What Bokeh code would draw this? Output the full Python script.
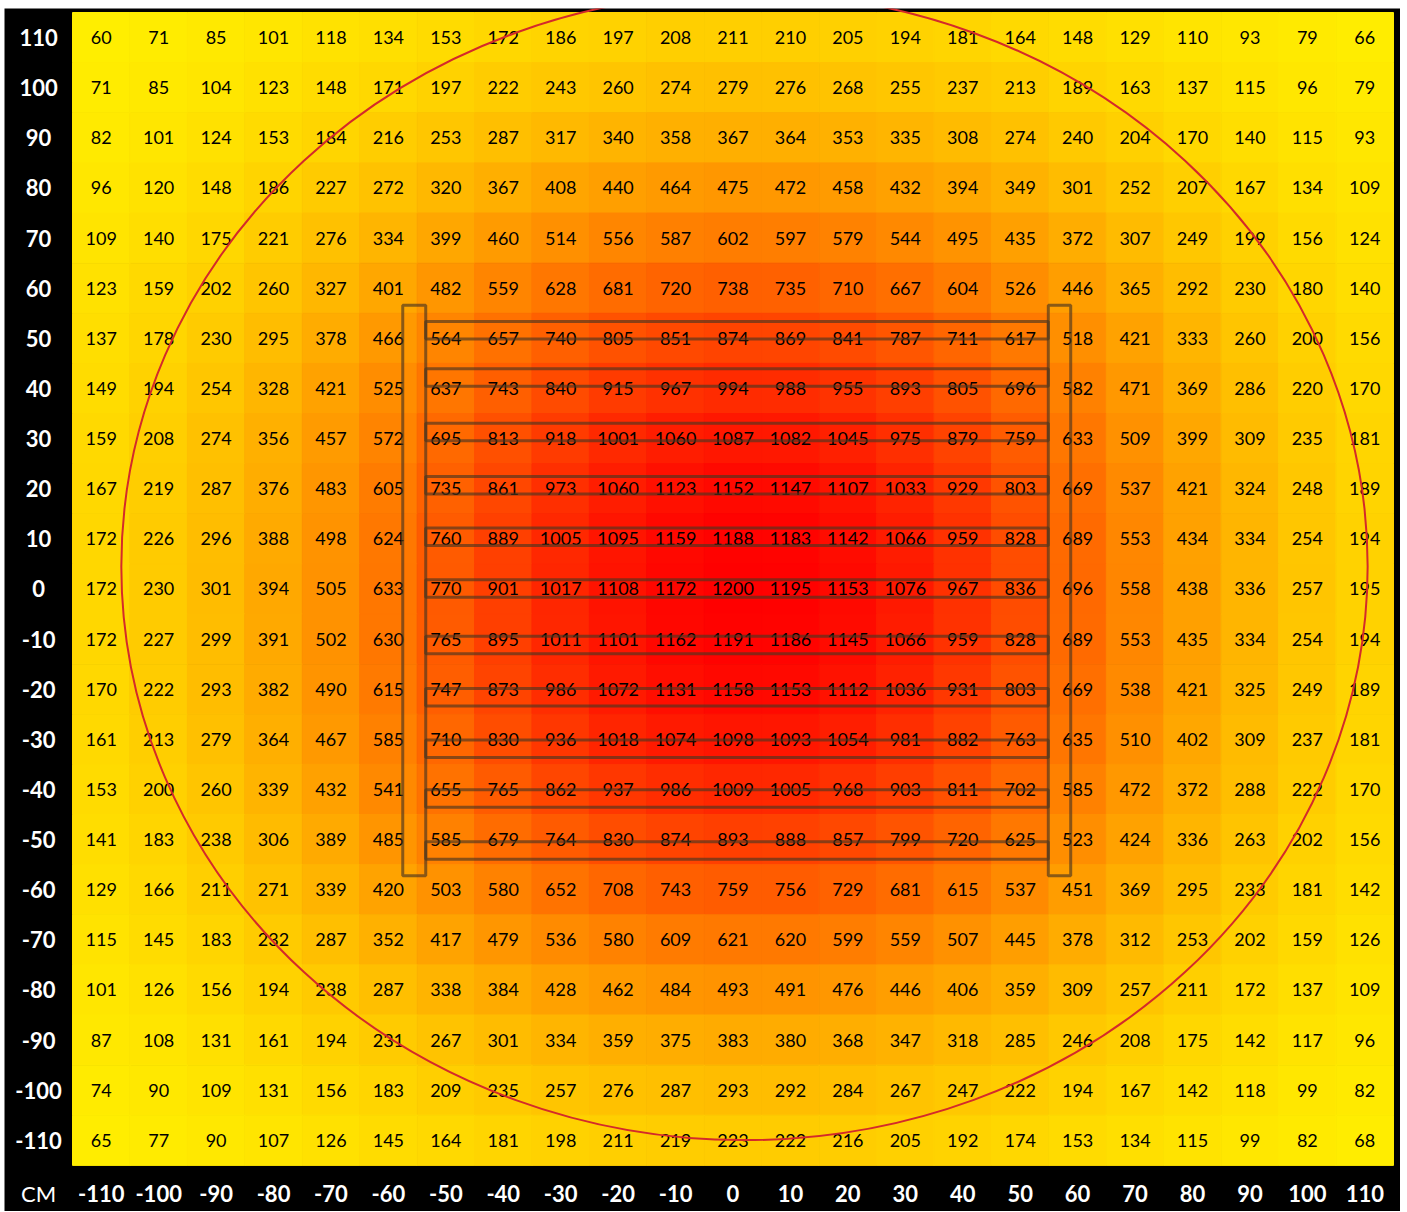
from bokeh.plotting import figure
from bokeh.models import Range1d, ColumnDataSource
from bokeh.transform import linear_cmap
from bokeh.core.properties import value
from bokeh.embed import file_html
from bokeh.resources import INLINE

# ---- data -------------------------------------------------------------
x_cm = [-110, -100, -90, -80, -70, -60, -50, -40, -30, -20, -10, 0,
        10, 20, 30, 40, 50, 60, 70, 80, 90, 100, 110]
y_cm = [110, 100, 90, 80, 70, 60, 50, 40, 30, 20, 10, 0,
        -10, -20, -30, -40, -50, -60, -70, -80, -90, -100, -110]
x_tick_labels = [str(v) for v in x_cm]
y_tick_labels = [str(v) for v in y_cm]
unit_label = "CM"

row_p110 = [60, 71, 85, 101, 118, 134, 153, 172, 186, 197, 208, 211, 210, 205, 194, 181, 164, 148, 129, 110, 93, 79, 66]
row_p100 = [71, 85, 104, 123, 148, 171, 197, 222, 243, 260, 274, 279, 276, 268, 255, 237, 213, 189, 163, 137, 115, 96, 79]
row_p90 = [82, 101, 124, 153, 184, 216, 253, 287, 317, 340, 358, 367, 364, 353, 335, 308, 274, 240, 204, 170, 140, 115, 93]
row_p80 = [96, 120, 148, 186, 227, 272, 320, 367, 408, 440, 464, 475, 472, 458, 432, 394, 349, 301, 252, 207, 167, 134, 109]
row_p70 = [109, 140, 175, 221, 276, 334, 399, 460, 514, 556, 587, 602, 597, 579, 544, 495, 435, 372, 307, 249, 199, 156, 124]
row_p60 = [123, 159, 202, 260, 327, 401, 482, 559, 628, 681, 720, 738, 735, 710, 667, 604, 526, 446, 365, 292, 230, 180, 140]
row_p50 = [137, 178, 230, 295, 378, 466, 564, 657, 740, 805, 851, 874, 869, 841, 787, 711, 617, 518, 421, 333, 260, 200, 156]
row_p40 = [149, 194, 254, 328, 421, 525, 637, 743, 840, 915, 967, 994, 988, 955, 893, 805, 696, 582, 471, 369, 286, 220, 170]
row_p30 = [159, 208, 274, 356, 457, 572, 695, 813, 918, 1001, 1060, 1087, 1082, 1045, 975, 879, 759, 633, 509, 399, 309, 235, 181]
row_p20 = [167, 219, 287, 376, 483, 605, 735, 861, 973, 1060, 1123, 1152, 1147, 1107, 1033, 929, 803, 669, 537, 421, 324, 248, 189]
row_p10 = [172, 226, 296, 388, 498, 624, 760, 889, 1005, 1095, 1159, 1188, 1183, 1142, 1066, 959, 828, 689, 553, 434, 334, 254, 194]
row_0 = [172, 230, 301, 394, 505, 633, 770, 901, 1017, 1108, 1172, 1200, 1195, 1153, 1076, 967, 836, 696, 558, 438, 336, 257, 195]
row_m10 = [172, 227, 299, 391, 502, 630, 765, 895, 1011, 1101, 1162, 1191, 1186, 1145, 1066, 959, 828, 689, 553, 435, 334, 254, 194]
row_m20 = [170, 222, 293, 382, 490, 615, 747, 873, 986, 1072, 1131, 1158, 1153, 1112, 1036, 931, 803, 669, 538, 421, 325, 249, 189]
row_m30 = [161, 213, 279, 364, 467, 585, 710, 830, 936, 1018, 1074, 1098, 1093, 1054, 981, 882, 763, 635, 510, 402, 309, 237, 181]
row_m40 = [153, 200, 260, 339, 432, 541, 655, 765, 862, 937, 986, 1009, 1005, 968, 903, 811, 702, 585, 472, 372, 288, 222, 170]
row_m50 = [141, 183, 238, 306, 389, 485, 585, 679, 764, 830, 874, 893, 888, 857, 799, 720, 625, 523, 424, 336, 263, 202, 156]
row_m60 = [129, 166, 211, 271, 339, 420, 503, 580, 652, 708, 743, 759, 756, 729, 681, 615, 537, 451, 369, 295, 233, 181, 142]
row_m70 = [115, 145, 183, 232, 287, 352, 417, 479, 536, 580, 609, 621, 620, 599, 559, 507, 445, 378, 312, 253, 202, 159, 126]
row_m80 = [101, 126, 156, 194, 238, 287, 338, 384, 428, 462, 484, 493, 491, 476, 446, 406, 359, 309, 257, 211, 172, 137, 109]
row_m90 = [87, 108, 131, 161, 194, 231, 267, 301, 334, 359, 375, 383, 380, 368, 347, 318, 285, 246, 208, 175, 142, 117, 96]
row_m100 = [74, 90, 109, 131, 156, 183, 209, 235, 257, 276, 287, 293, 292, 284, 267, 247, 222, 194, 167, 142, 118, 99, 82]
row_m110 = [65, 77, 90, 107, 126, 145, 164, 181, 198, 211, 219, 223, 222, 216, 205, 192, 174, 153, 134, 115, 99, 82, 68]

rows = [row_p110, row_p100, row_p90, row_p80, row_p70, row_p60, row_p50, row_p40,
        row_p30, row_p20, row_p10, row_0, row_m10, row_m20, row_m30, row_m40,
        row_m50, row_m60, row_m70, row_m80, row_m90, row_m100, row_m110]

# fixture overlay (tubes and end caps) and the circular field outline
tube_y = [51.6, 42.2, 31.3, 20.7, 10.4, 0.1, -11.2, -21.6, -31.9, -41.8, -52.2]
tube_left, tube_right, tube_h = -53.5, 54.9, 3.5
cap_left = [-57.5, 54.9]
cap_right = [-53.5, 58.8]
cap_top, cap_bottom = 56.6, -57.2
field_cx, field_cy, field_w, field_h = 2.0, 4.5, 217.0, 229.0

# label band positions (outside the measured grid, in cm)
label_col_x = -120.9
label_row_y = -120.6

# ---- build sources ------------------------------------------------------
xs, ys, vals, labels = [], [], [], []
for yv, row in zip(y_cm, rows):
    for xv, v in zip(x_cm, row):
        xs.append(xv)
        ys.append(yv)
        vals.append(v)
        labels.append(str(v))
src = ColumnDataSource(dict(x=xs, y=ys, val=vals, label=labels))

palette = ["#ff%02x00" % int(round(238 * (1 - i / 255))) for i in range(256)]
cmap = linear_cmap("val", palette, 60, 1200)

# frame covers the whole black panel: grid spans -115..115 on both axes
p = figure(
    frame_width=1396, frame_height=1203,
    x_range=Range1d(-126.84, 116.22), y_range=Range1d(-124.2, 115.8),
    output_backend="svg", toolbar_location=None,
    min_border=0, min_border_left=0, min_border_right=0,
    min_border_top=0, min_border_bottom=0,
    x_axis_location=None, y_axis_location=None,
    border_fill_color="black", background_fill_color="black",
    outline_line_color=None,
)
p.margin = (8, 0, 0, 4)
p.grid.visible = False

p.rect(x="x", y="y", width=10, height=10, source=src,
       fill_color=cmap, line_color=cmap, line_width=1)

p.text(x="x", y="y", text="label", source=src,
       text_align="center", text_baseline="middle",
       text_font=value("Lato"), text_font_size="18px", text_color="black")

# tubes
p.quad(left=[tube_left] * len(tube_y), right=[tube_right] * len(tube_y),
       top=[t + tube_h / 2 for t in tube_y], bottom=[t - tube_h / 2 for t in tube_y],
       fill_color=None, line_color="#4a3520", line_alpha=0.65, line_width=3)
# end caps
p.quad(left=cap_left, right=cap_right, top=[cap_top] * 2, bottom=[cap_bottom] * 2,
       fill_color=None, line_color="#4a3520", line_alpha=0.65, line_width=3)

# field outline
p.ellipse(x=[field_cx], y=[field_cy], width=[field_w], height=[field_h],
          fill_color=None, line_color="#d42a2a", line_width=2)

# axis label bands (black panel), drawn through the same scales
p.text(x=[label_col_x] * len(y_cm), y=y_cm, text=y_tick_labels,
       text_align="center", text_baseline="middle",
       text_font=value("Lato"), text_font_style="bold",
       text_font_size="22px", text_color="white")
p.text(x=x_cm, y=[label_row_y] * len(x_cm), text=x_tick_labels,
       text_align="center", text_baseline="middle",
       text_font=value("Lato"), text_font_style="bold",
       text_font_size="22px", text_color="white")
p.text(x=[label_col_x], y=[label_row_y], text=[unit_label],
       text_align="center", text_baseline="middle",
       text_font=value("Lato"), text_font_size="22px", text_color="white")

open("out.html", "w").write(file_html(p, INLINE))
